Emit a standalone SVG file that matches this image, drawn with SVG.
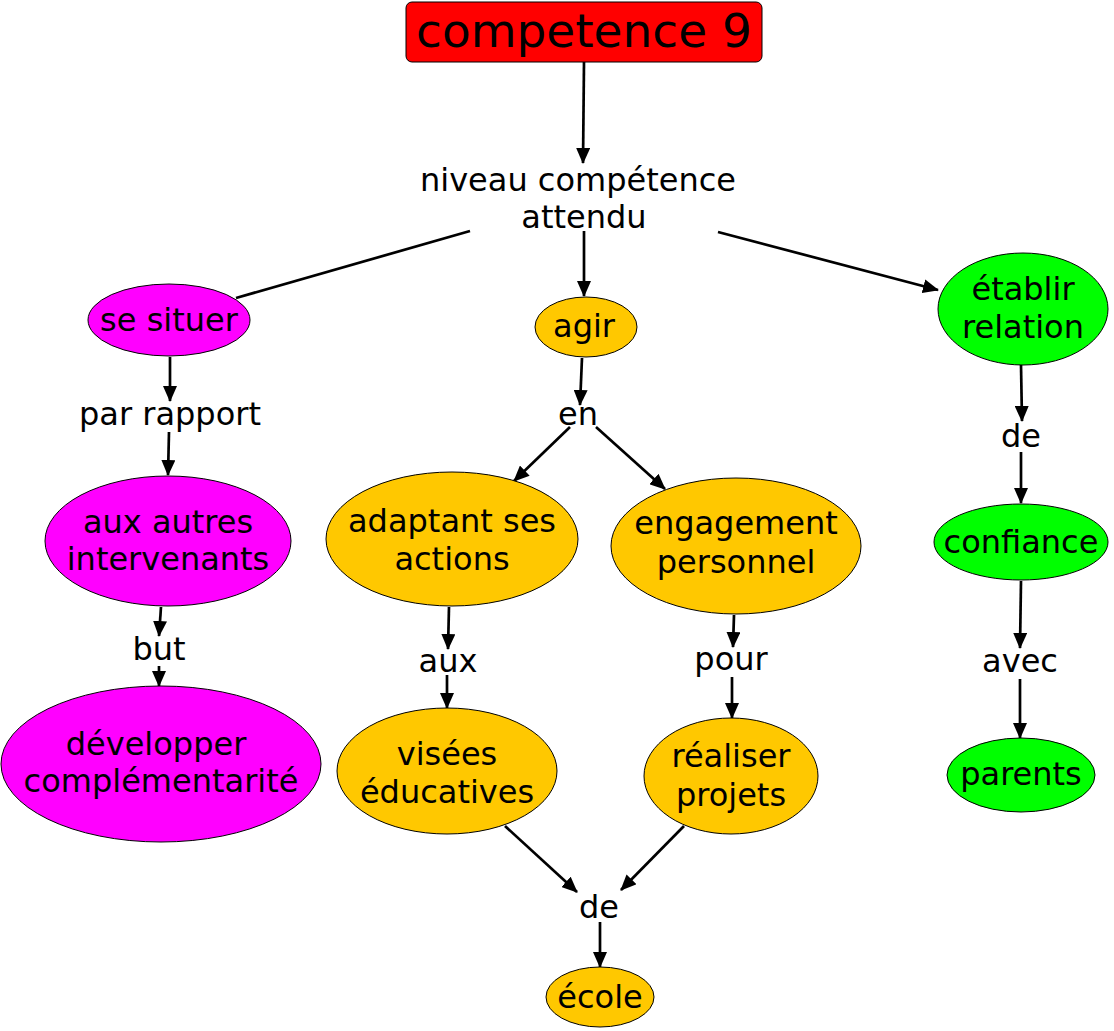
<svg xmlns="http://www.w3.org/2000/svg" width="1114" height="1031" viewBox="0 0 1114 1031">
<style>
text{font-family:"DejaVu Sans",Verdana,sans-serif;font-size:32px;fill:#000;text-anchor:middle}
.n{stroke:#000;stroke-width:1}
.m{fill:#ff00ff}.o{fill:#ffc800}.g{fill:#00ff00}
.c line{stroke:#000;stroke-width:2.7}
</style>
<defs>
<marker id="a" viewBox="0 0 16 14" refX="15" refY="7" markerWidth="16" markerHeight="14" markerUnits="userSpaceOnUse" orient="auto">
<path d="M0,0L16,7L0,14z" fill="#000"/>
</marker>
</defs>
<rect width="1114" height="1031" fill="#fff"/>
<g class="c">
<line x1="584" y1="62" x2="583" y2="163" marker-end="url(#a)"/>
<line x1="470" y1="231" x2="236" y2="298"/>
<line x1="584" y1="231" x2="584" y2="296" marker-end="url(#a)"/>
<line x1="718" y1="232" x2="938" y2="290" marker-end="url(#a)"/>
<line x1="170" y1="357" x2="170" y2="401" marker-end="url(#a)"/>
<line x1="169" y1="432" x2="168" y2="475" marker-end="url(#a)"/>
<line x1="161" y1="607" x2="159" y2="636" marker-end="url(#a)"/>
<line x1="159" y1="666" x2="159" y2="686" marker-end="url(#a)"/>
<line x1="582" y1="358" x2="580" y2="405" marker-end="url(#a)"/>
<line x1="570" y1="427" x2="514" y2="481" marker-end="url(#a)"/>
<line x1="596" y1="427" x2="665" y2="489" marker-end="url(#a)"/>
<line x1="449" y1="607" x2="448" y2="649" marker-end="url(#a)"/>
<line x1="447" y1="675" x2="447" y2="708" marker-end="url(#a)"/>
<line x1="734" y1="615" x2="733" y2="647" marker-end="url(#a)"/>
<line x1="732" y1="677" x2="732" y2="718" marker-end="url(#a)"/>
<line x1="505" y1="826" x2="577" y2="892" marker-end="url(#a)"/>
<line x1="684" y1="826" x2="621" y2="890" marker-end="url(#a)"/>
<line x1="600" y1="922" x2="600" y2="967" marker-end="url(#a)"/>
<line x1="1021" y1="365" x2="1022" y2="421" marker-end="url(#a)"/>
<line x1="1021" y1="452" x2="1021" y2="503" marker-end="url(#a)"/>
<line x1="1021" y1="581" x2="1020" y2="648" marker-end="url(#a)"/>
<line x1="1020" y1="679" x2="1020" y2="738" marker-end="url(#a)"/>
</g>
<g id="competence9"><rect class="n" x="406" y="2" width="356" height="60" rx="6" fill="#ff0000"/><text x="584" y="47" style="font-size:47px">competence 9</text></g>
<g id="niveau"><text x="578" y="191">niveau compétence</text><text x="584" y="228">attendu</text></g>
<g id="sesituer"><ellipse class="n m" cx="169" cy="320" rx="81" ry="36"/><text x="169" y="331">se situer</text></g>
<g id="agir"><ellipse class="n o" cx="586" cy="327" rx="51" ry="30"/><text x="584" y="337">agir</text></g>
<g id="etablir"><ellipse class="n g" cx="1023" cy="309" rx="85" ry="56"/><text x="1023" y="300">établir</text><text x="1023" y="338">relation</text></g>
<g id="parrapport"><text x="170" y="425">par rapport</text></g>
<g id="auxautres"><ellipse class="n m" cx="168" cy="541" rx="123" ry="65"/><text x="168" y="533">aux autres</text><text x="168" y="570">intervenants</text></g>
<g id="but"><text x="159" y="660">but</text></g>
<g id="developper"><ellipse class="n m" cx="161" cy="764" rx="160" ry="78"/><text x="156" y="755">développer</text><text x="161" y="792">complémentarité</text></g>
<g id="en"><text x="578" y="425">en</text></g>
<g id="adaptant"><ellipse class="n o" cx="452" cy="539" rx="126" ry="67"/><text x="452" y="532">adaptant ses</text><text x="452" y="570">actions</text></g>
<g id="engagement"><ellipse class="n o" cx="736" cy="546" rx="125" ry="68"/><text x="736" y="534">engagement</text><text x="736" y="573">personnel</text></g>
<g id="aux"><text x="448" y="672">aux</text></g>
<g id="pour"><text x="731" y="670">pour</text></g>
<g id="visees"><ellipse class="n o" cx="447" cy="771" rx="110" ry="63"/><text x="447" y="765">visées</text><text x="447" y="803">éducatives</text></g>
<g id="realiser"><ellipse class="n o" cx="731" cy="776" rx="87" ry="58"/><text x="731" y="767">réaliser</text><text x="731" y="806">projets</text></g>
<g id="de1"><text x="599" y="918">de</text></g>
<g id="ecole"><ellipse class="n o" cx="600" cy="997" rx="54" ry="30"/><text x="600" y="1008">école</text></g>
<g id="de2"><text x="1021" y="447">de</text></g>
<g id="confiance"><ellipse class="n g" cx="1021" cy="542" rx="87" ry="38"/><text x="1021" y="553">confiance</text></g>
<g id="avec"><text x="1020" y="672">avec</text></g>
<g id="parents"><ellipse class="n g" cx="1021" cy="775" rx="74" ry="37"/><text x="1021" y="785">parents</text></g>
</svg>
